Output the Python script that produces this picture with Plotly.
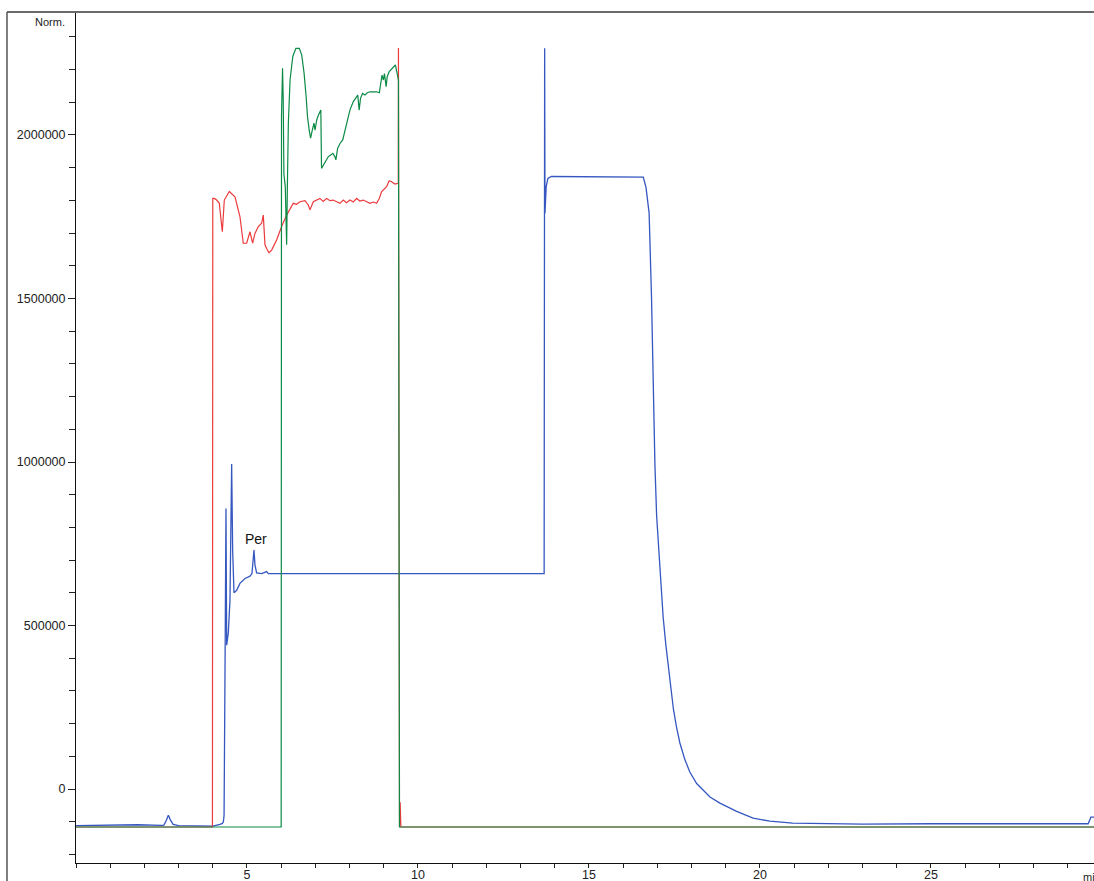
import plotly.graph_objects as go

# ---------------- data (time in min, signal in Norm.) ----------------
blue_t = [0, 1.0, 1.8, 2.5, 2.57, 2.64, 2.70, 2.76, 2.84, 3.0, 3.6, 4.0, 4.21, 4.28, 4.31,
          4.33, 4.36, 4.386, 4.406, 4.454, 4.503, 4.552, 4.581, 4.620, 4.698, 4.795, 4.942,
          5.088, 5.146, 5.185, 5.205, 5.234, 5.283, 5.429, 5.575, 5.624, 8.0, 11.0, 13.69,
          13.705, 13.715, 13.75, 13.80, 13.90, 15.0, 16.0, 16.59, 16.67, 16.72, 16.76, 16.83,
          16.88, 16.93, 16.98, 17.03, 17.08, 17.12, 17.17, 17.25, 17.32, 17.40, 17.47, 17.56,
          17.66, 17.80, 17.95, 18.15, 18.34, 18.54, 18.83, 19.07, 19.32, 19.80, 20.29, 20.96,
          21.75, 23.0, 25.0, 27.0, 29.0, 29.6, 29.68, 29.77]
blue_v = [-112000, -110000, -109000, -111000, -110000, -96000, -80000, -94000, -108000,
          -112000, -112000, -113000, -108000, -105000, -100000, -80000, 400000, 858000,
          440000, 477000, 578000, 994000, 731000, 600000, 608000, 629000, 644000, 651000,
          659000, 726000, 731000, 685000, 661000, 659000, 665000, 659000, 660000, 659000,
          659000, 2265000, 1761000, 1842000, 1867000, 1873000, 1873000, 1873000, 1871000,
          1839000, 1789000, 1761000, 1505000, 1183000, 991000, 835000, 745000, 667000,
          590000, 526000, 440000, 373000, 305000, 245000, 190000, 141000, 92000, 52000,
          17000, -3000, -24000, -43000, -56000, -68000, -89000, -98000, -104000, -105000,
          -107000, -106000, -106000, -107000, -106000, -86000, -86000]

red_t = [0, 3.99, 4.0, 4.045, 4.113, 4.191, 4.279, 4.337, 4.483, 4.649, 4.795, 4.892, 4.990,
         5.088, 5.165, 5.234, 5.331, 5.429, 5.477, 5.526, 5.575, 5.643, 5.721, 5.867, 6.013,
         6.160, 6.354, 6.450, 6.549, 6.696, 6.793, 6.842, 6.939, 7.04, 7.134, 7.23, 7.329,
         7.43, 7.524, 7.622, 7.719, 7.817, 7.91, 8.011, 8.11, 8.207, 8.30, 8.401, 8.499,
         8.596, 8.70, 8.791, 8.869, 8.937, 9.084, 9.16, 9.230, 9.327, 9.425, 9.43, 9.46,
         9.48, 9.50, 9.52, 29.77]
red_v = [-116000, -116000, 1806000, 1806000, 1801000, 1791000, 1704000, 1801000, 1827000,
         1811000, 1750000, 1669000, 1669000, 1704000, 1669000, 1699000, 1720000, 1730000,
         1755000, 1664000, 1653000, 1640000, 1648000, 1679000, 1720000, 1755000, 1791000,
         1788000, 1796000, 1799000, 1786000, 1771000, 1796000, 1800000, 1806000, 1797000,
         1806000, 1799000, 1801000, 1796000, 1791000, 1801000, 1793000, 1801000, 1795000,
         1806000, 1798000, 1801000, 1796000, 1791000, 1795000, 1791000, 1806000, 1827000,
         1842000, 1860000, 1857000, 1850000, 1852000, 2266000, -116000, -40000, -116000,
         -116000, -116000]

green_t = [0, 6.00, 6.01, 6.02, 6.04, 6.06, 6.08, 6.12, 6.16, 6.18, 6.21, 6.26, 6.34, 6.43,
           6.53, 6.60, 6.67, 6.73, 6.77, 6.82, 6.86, 6.91, 6.96, 6.99, 7.04, 7.09, 7.14,
           7.16, 7.18, 7.23, 7.31, 7.38, 7.45, 7.51, 7.57, 7.60, 7.65, 7.72, 7.80, 7.87,
           7.93, 8.01, 8.11, 8.19, 8.24, 8.28, 8.32, 8.38, 8.45, 8.52, 8.60, 8.69, 8.79,
           8.87, 8.91, 8.95, 8.99, 9.02, 9.07, 9.10, 9.16, 9.24, 9.30, 9.34, 9.38, 9.41,
           9.43, 9.46, 29.77]
green_v = [-116000, -116000, 2060000, 2107000, 2204000, 2110000, 1880000, 1842000, 1664000,
           1832000, 2036000, 2168000, 2240000, 2265000, 2265000, 2245000, 2189000, 2117000,
           2056000, 2015000, 1990000, 2015000, 2036000, 2015000, 2046000, 2061000, 2071000,
           2076000, 1898000, 1908000, 1924000, 1934000, 1939000, 1944000, 1934000, 1924000,
           1959000, 1974000, 1985000, 2015000, 2046000, 2076000, 2102000, 2117000, 2122000,
           2076000, 2112000, 2127000, 2122000, 2129000, 2132000, 2132000, 2132000, 2129000,
           2158000, 2183000, 2168000, 2188000, 2148000, 2178000, 2194000, 2204000, 2209000,
           2214000, 2194000, 2173000, 2168000, -116000, -116000]

x_ticks = [5, 10, 15, 20, 25]
y_ticks = [0, 500000, 1000000, 1500000, 2000000]
y_ticktext = ["0", "500000", "1000000", "1500000", "2000000"]

peak_label = "Per"
peak_pos = (5.26, 765000)

# ---------------- figure ----------------
FONT = "Liberation Sans, Arial, sans-serif"
fig = go.Figure()
fig.add_trace(go.Scatter(x=blue_t, y=blue_v, mode="lines",
                         line=dict(color="#3557c0", width=1.3), hoverinfo="skip"))
fig.add_trace(go.Scatter(x=red_t, y=red_v, mode="lines",
                         line=dict(color="#ec3a3d", width=1.2), hoverinfo="skip"))
fig.add_trace(go.Scatter(x=green_t, y=green_v, mode="lines",
                         line=dict(color="#0b8a45", width=1.2), hoverinfo="skip"))

fig.add_annotation(x=peak_pos[0], y=peak_pos[1], text=peak_label, showarrow=False,
                   font=dict(family=FONT, size=14, color="#111"))

# axis unit labels
fig.add_annotation(xref="paper", yref="paper", x=(67 - 76) / 1018, y=1 - (22 - 12) / 851,
                   xanchor="right", yanchor="middle", text="Norm.", showarrow=False,
                   font=dict(family=FONT, size=11, color="#222"))
fig.add_annotation(xref="paper", yref="paper", x=(1081 - 76) / 1018, y=-(877 - 863) / 851,
                   xanchor="left", yanchor="middle", text="min", showarrow=False,
                   font=dict(family=FONT, size=11, color="#222"))

# outer frame (top and left)
fx = -69 / 1018
fig.add_shape(type="line", xref="paper", yref="paper", x0=fx, x1=1.01, y0=1, y1=1,
              line=dict(color="#6a6a6a", width=2))
fig.add_shape(type="line", xref="paper", yref="paper", x0=fx, x1=fx, y0=1, y1=-0.03,
              line=dict(color="#555", width=1.5))

fig.update_layout(
    width=1094, height=881,
    margin=dict(l=76, r=0, t=12, b=18, autoexpand=False),
    paper_bgcolor="white", plot_bgcolor="white",
    showlegend=False,
    font=dict(family=FONT, size=12.5, color="#222"),
    xaxis=dict(range=[0, 29.77], tickvals=x_ticks, ticks="outside", ticklen=4,
               ticklabelstandoff=-4,
               tickcolor="#222", showline=True, linecolor="#111", linewidth=1,
               showgrid=False, zeroline=False, automargin=False,
               minor=dict(dtick=1, tick0=0, ticks="outside", ticklen=4, tickcolor="#222")),
    yaxis=dict(range=[-226000, 2376000], tickvals=y_ticks, ticktext=y_ticktext,
               ticks="outside", ticklen=7, tickcolor="#222", showline=True,
               linecolor="#111", linewidth=1, showgrid=False, zeroline=False,
               automargin=False,
               minor=dict(dtick=100000, tick0=0, ticks="outside", ticklen=6,
                          tickcolor="#222")),
)

fig.write_html("out.html", config={"displayModeBar": False},
               post_script="document.body.style.margin='0';document.body.style.overflow='hidden';")
